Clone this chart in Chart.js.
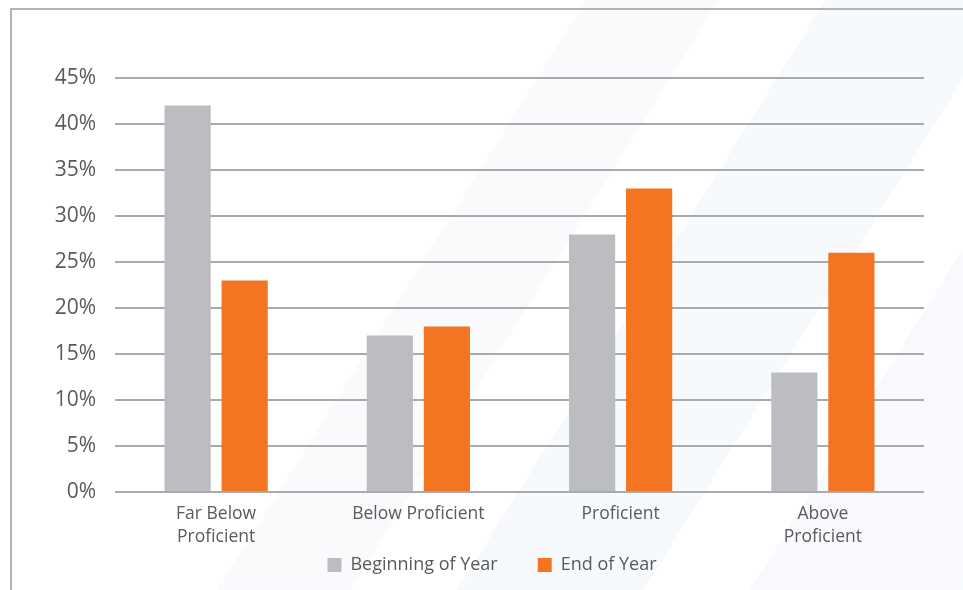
<!DOCTYPE html>
<html>
<head>
<meta charset="utf-8">
<script src="https://cdn.jsdelivr.net/npm/chart.js@4"></script>
<style>
  html, body { margin: 0; padding: 0; background: #fff; }
  #wrap { position: relative; width: 963px; height: 590px; overflow: hidden; }
  /* faint diagonal stripes behind the chart */
  #bg {
    position: absolute; left: 0; top: 0; width: 963px; height: 590px;
    background:
      linear-gradient(122deg, transparent 0 44%, rgba(228,236,246,0.25) 44% 54%, transparent 54% 62%, rgba(228,236,246,0.3) 62% 76%, transparent 76% 84%, rgba(228,236,246,0.28) 84%);
  }
  #frame {
    position: absolute; left: 10px; top: 8px; right: -4px; bottom: -4px;
    border-top: 2px solid #b3b3b5; border-left: 2px solid #b3b3b5;
  }
  canvas { position: absolute; left: 0; top: 0; }
</style>
</head>
<body>
<div id="wrap">
  <div id="bg"></div>
  <div id="frame"></div>
  <canvas id="chart" width="963" height="590"></canvas>
</div>
<script>
// 데이터
const categories = [["Far Below", "Proficient"], "Below Proficient", "Proficient", ["Above", "Proficient"]];
const beginningOfYear = [42, 17, 28, 13];
const endOfYear = [23, 18, 33, 26];
const yTicks = [0, 5, 10, 15, 20, 25, 30, 35, 40, 45];

const textColor = "#5a5a5c";
const fontFamily = "'Open Sans', sans-serif";
const legendFontSize = 18;
const legendPadding = 40;

// 범례 위치 보정 (가로 중심 492px, 세로 중심 565px)
// 범례는 자기 영역으로 clip 되므로 top 만 위로 늘린다
const legendShift = {
  id: "legendShift",
  afterLayout(chart) {
    const lg = chart.legend;
    const dx = 492 - (lg.left + lg.right) / 2;
    const dy = 565 - (lg.top + legendPadding + legendFontSize / 2);
    lg.left += dx;
    lg.right += dx;
    lg.top += dy;
    lg.height = lg.bottom - lg.top;
  },
};

const ctx = document.getElementById("chart").getContext("2d");
new Chart(ctx, {
  type: "bar",
  data: {
    labels: categories,
    datasets: [
      {
        label: "Beginning of Year",
        data: beginningOfYear,
        backgroundColor: "#bcbdc0",
        borderWidth: 0,
      },
      {
        label: "End of Year",
        data: endOfYear,
        backgroundColor: "#f47521",
        borderWidth: 0,
      },
    ],
  },
  plugins: [legendShift],
  options: {
    responsive: false,
    animation: false,
    layout: {
      padding: { left: 0, right: 39, top: 78, bottom: 0 },
    },
    datasets: {
      bar: {
        categoryPercentage: 0.564,
        barPercentage: 0.81,
      },
    },
    scales: {
      x: {
        grid: { display: false, drawTicks: false },
        border: { display: false },
        afterFit: (scale) => {
          scale.height = 72;
        },
        ticks: {
          color: textColor,
          font: { family: fontFamily, size: 17.5, lineHeight: 1.32 },
          padding: 10,
          maxRotation: 0,
        },
      },
      y: {
        min: 0,
        max: 45,
        afterBuildTicks: (scale) => {
          scale.ticks = yTicks.map((v) => ({ value: v }));
        },
        afterFit: (scale) => {
          scale.width = 115;
        },
        grid: {
          color: "#a9aaad",
          lineWidth: 2,
          drawTicks: false,
        },
        border: { display: false },
        ticks: {
          color: textColor,
          font: { family: fontFamily, size: 21 },
          padding: 19,
          callback: (value) => value + "%",
        },
      },
    },
    plugins: {
      legend: {
        position: "bottom",
        maxHeight: 26,
        labels: {
          color: textColor,
          font: { family: fontFamily, size: legendFontSize },
          boxWidth: 14,
          boxHeight: 14,
          padding: legendPadding,
        },
      },
      tooltip: { enabled: false },
    },
  },
});
</script>
</body>
</html>
